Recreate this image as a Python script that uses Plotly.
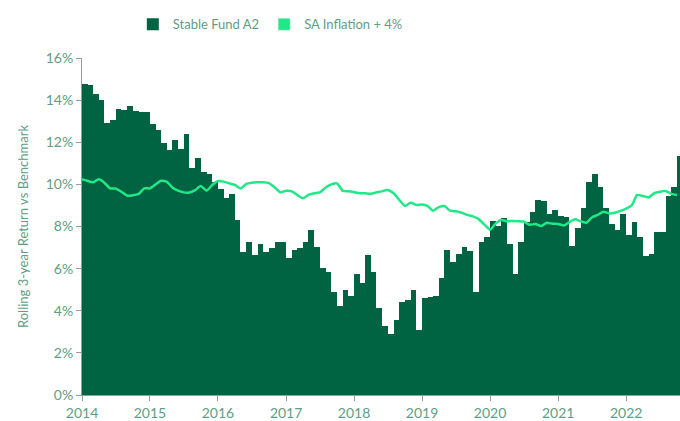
import pandas as pd
import plotly.graph_objects as go

start_month = "2014-01-01"
n_months = 106

fund_a2 = [
    14.77, 14.70, 14.30, 14.00, 12.90, 13.06, 13.60, 13.55, 13.72, 13.50, 13.42, 13.42,
    12.87, 12.60, 11.96, 11.63, 12.10, 11.70, 12.40, 10.80, 11.24, 10.60, 10.50, 10.13,
    9.80, 9.35, 9.54, 8.30, 6.80, 7.25, 6.65, 7.17, 6.80, 6.96, 7.25, 7.25,
    6.52, 6.88, 6.96, 7.25, 7.82, 7.04, 6.01, 5.85, 4.88, 4.23, 4.97, 4.70,
    5.73, 5.30, 6.66, 5.83, 4.15, 3.29, 2.90, 3.55, 4.40, 4.51, 4.99, 3.09,
    4.59, 4.65, 4.70, 5.56, 6.87, 6.33, 6.70, 7.04, 6.85, 4.90, 7.25, 7.52,
    8.28, 8.04, 8.39, 7.16, 5.75, 7.25, 8.20, 8.69, 9.24, 9.20, 8.60, 8.77,
    8.50, 8.47, 7.07, 7.93, 8.86, 10.10, 10.48, 9.89, 8.86, 8.10, 7.83, 8.60,
    7.60, 8.20, 7.52, 6.60, 6.70, 7.72, 7.72, 9.45, 9.89, 11.35,
]

inflation_plus4 = [
    10.24, 10.16, 10.10, 10.24, 10.08, 9.81, 9.80, 9.65, 9.46, 9.48, 9.55, 9.81,
    9.81, 10.00, 10.17, 10.13, 9.85, 9.70, 9.62, 9.61, 9.73, 9.92, 9.70, 9.97,
    10.16, 10.13, 10.05, 9.97, 9.81, 10.02, 10.08, 10.10, 10.10, 10.06, 9.85, 9.62,
    9.70, 9.67, 9.50, 9.34, 9.50, 9.58, 9.62, 9.85, 10.00, 10.05, 9.69, 9.67,
    9.63, 9.58, 9.58, 9.56, 9.62, 9.68, 9.73, 9.58, 9.26, 8.97, 9.13, 9.02,
    9.05, 8.97, 8.75, 8.92, 8.97, 8.75, 8.72, 8.65, 8.55, 8.48, 8.35, 8.10,
    7.85, 8.15, 8.31, 8.25, 8.26, 8.25, 8.23, 8.08, 8.12, 8.02, 8.18, 8.13,
    8.12, 8.05, 8.20, 8.34, 8.25, 8.18, 8.43, 8.55, 8.70, 8.62, 8.65, 8.74,
    8.85, 9.02, 9.50, 9.45, 9.38, 9.58, 9.65, 9.69, 9.55, 9.50,
]

series_names = ["Stable Fund A2", "SA Inflation + 4%"]
y_ticks = [0, 2, 4, 6, 8, 10, 12, 14, 16]
y_tick_labels = [f"{v}%" for v in y_ticks]
x_end = "2022-10-17"

months = pd.date_range(start_month, periods=n_months + 1, freq="MS")
bar_x = months[:-1]
bar_w = [(months[i + 1] - months[i]).total_seconds() * 1000 for i in range(n_months)]

DARK = "#006341"
BRIGHT = "#1FE886"
TXT = "#5E9E84"
FONT = "Lato"

fig = go.Figure()
fig.add_trace(go.Bar(
    x=bar_x, y=fund_a2, width=bar_w, offset=0,
    marker=dict(color=DARK, line=dict(width=0)),
    name=series_names[0], showlegend=True,
))
fig.add_trace(go.Scatter(
    x=bar_x, y=inflation_plus4, mode="lines",
    line=dict(color=BRIGHT, width=2.5, shape="spline", smoothing=0.5),
    name=series_names[1], showlegend=False,
))
# legend swatch for the line series (square, as in the reference)
fig.add_trace(go.Bar(
    x=[None], y=[None], marker=dict(color=BRIGHT),
    name=series_names[1], showlegend=True,
))

fig.update_layout(
    width=680, height=421,
    margin=dict(l=82, r=0, t=58, b=26),
    paper_bgcolor="white", plot_bgcolor="white",
    bargap=0, barmode="overlay",
    font=dict(family=FONT, color=TXT, size=14),
    legend=dict(
        orientation="h", x=0.085, xanchor="left", y=1.10, yanchor="middle",
        font=dict(size=13, color=TXT), itemwidth=30,
    ),
    xaxis=dict(
        type="date", range=[start_month, x_end],
        tickformat="%Y", dtick="M12", tick0=start_month,
        showgrid=False, zeroline=False,
        showline=True, linecolor="#9a9a9a", linewidth=1,
        ticks="outside", ticklen=5, tickcolor="#9a9a9a",
        tickfont=dict(size=14, color=TXT),
    ),
    yaxis=dict(
        range=[0, 16], tickvals=y_ticks, ticktext=y_tick_labels,
        showgrid=False, zeroline=False,
        showline=True, linecolor="#9a9a9a", linewidth=1,
        ticks="outside", ticklen=5, tickcolor="#9a9a9a",
        tickfont=dict(size=14, color=TXT),
        title=dict(text="Rolling 3-year Return vs Benchmark", font=dict(size=13, color=TXT), standoff=14),
    ),
)

fig.write_html("out.html")
